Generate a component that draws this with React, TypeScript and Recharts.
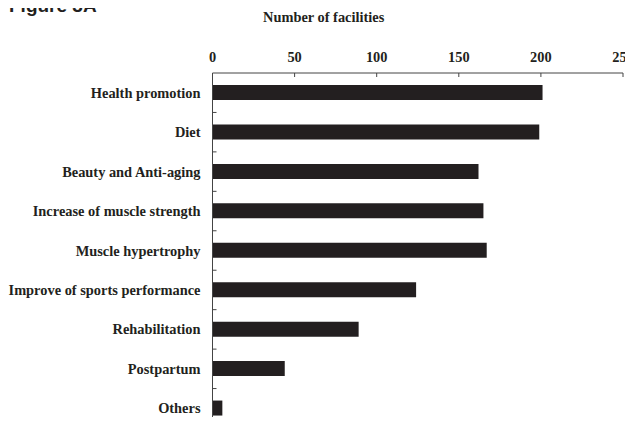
import React from 'react'
import { BarChart, Bar, XAxis, YAxis } from 'recharts'

const categories = [
  'Health promotion',
  'Diet',
  'Beauty and Anti-aging',
  'Increase of muscle strength',
  'Muscle hypertrophy',
  'Improve of sports performance',
  'Rehabilitation',
  'Postpartum',
  'Others',
]
const facilities = [201, 199, 162, 165, 167, 124, 89, 44, 6]
const xTicks = [0, 50, 100, 150, 200, 250]

const data = categories.map((name, i) => ({ name, value: facilities[i] }))

const serif = '"Liberation Serif", "Times New Roman", serif'
const BAND = 355 / categories.length

// label at the category centre, small tick mark on the boundary above it
const CategoryTick = (props: any) => {
  const { x, y, payload, index } = props
  const axisX = x + 12
  return (
    <g>
      <text
        x={x}
        y={y}
        dy={5}
        textAnchor="end"
        fontFamily={serif}
        fontWeight="bold"
        fontSize={14.4}
        fill="#231f20"
      >
        {payload.value}
      </text>
      {index > 0 && (
        <line
          x1={axisX}
          x2={axisX + 4}
          y1={y - BAND / 2}
          y2={y - BAND / 2}
          stroke="#444"
        />
      )}
    </g>
  )
}

const App: React.FC = () => {
  return (
    <div
      style={{
        position: 'relative',
        margin: -8,
        width: 633,
        height: 425,
        overflow: 'hidden',
        background: '#fff',
      }}
    >
      <div
        style={{
          position: 'absolute',
          left: 9,
          top: -5,
          fontFamily: '"Liberation Sans", Arial, sans-serif',
          fontWeight: 'bold',
          fontSize: 19,
          lineHeight: '22px',
          color: '#231f20',
        }}
      >
        Figure 3A
      </div>
      <div
        style={{
          position: 'absolute',
          left: 263,
          top: 9,
          fontFamily: serif,
          fontWeight: 'bold',
          fontSize: 14.4,
          color: '#231f20',
        }}
      >
        Number of facilities
      </div>
      <BarChart
        width={633}
        height={430}
        data={data}
        layout="vertical"
        margin={{ top: 43, right: 10, left: 0, bottom: 2 }}
      >
        <XAxis
          type="number"
          orientation="top"
          domain={[0, 250]}
          ticks={xTicks}
          interval={0}
          height={30}
          axisLine={{ stroke: '#444' }}
          tickLine={{ stroke: '#444' }}
          tickSize={-4}
          tickMargin={15}
          tick={{
            fontFamily: serif,
            fontWeight: 'bold',
            fontSize: 14.4,
            fill: '#231f20',
          }}
        />
        <YAxis
          type="category"
          dataKey="name"
          width={212.5}
          axisLine={{ stroke: '#444' }}
          tickLine={false}
          tickSize={0}
          tickMargin={12}
          interval={0}
          tick={<CategoryTick />}
        />
        <Bar
          dataKey="value"
          fill="#231f20"
          barSize={15}
          isAnimationActive={false}
        />
      </BarChart>
    </div>
  )
}

export default App
